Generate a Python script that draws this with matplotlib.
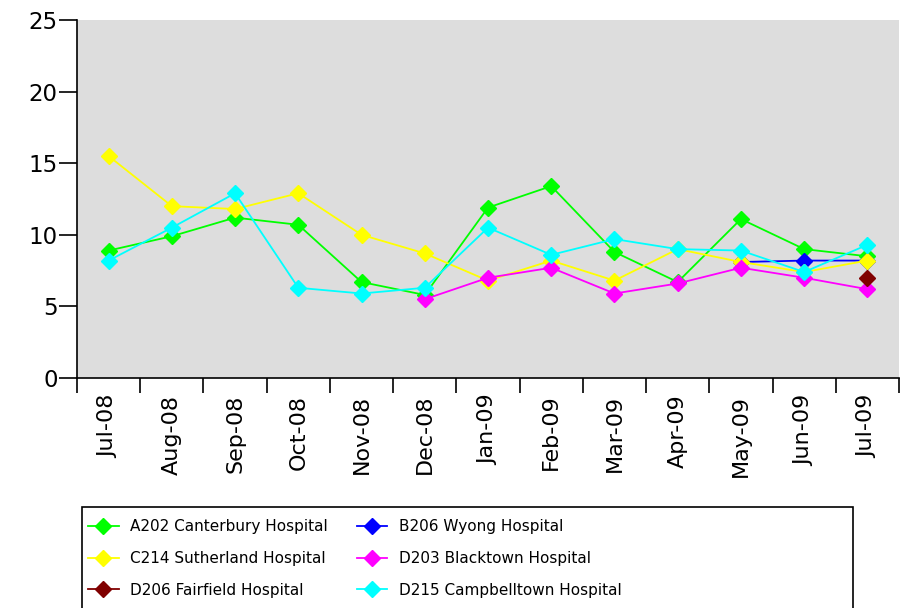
import numpy as np
import matplotlib
matplotlib.use("Agg")
import matplotlib.pyplot as plt
from matplotlib.patches import Rectangle

months = ["Jul-08", "Aug-08", "Sep-08", "Oct-08", "Nov-08", "Dec-08",
          "Jan-09", "Feb-09", "Mar-09", "Apr-09", "May-09", "Jun-09", "Jul-09"]

nan = np.nan
canterbury = [8.9, 9.9, 11.2, 10.7, 6.7, 5.8, 11.9, 13.4, 8.8, 6.7, 11.1, 9.0, 8.5]
wyong = [nan, nan, nan, nan, nan, nan, nan, nan, nan, nan, 8.1, 8.2, 8.2]
sutherland = [15.5, 12.0, 11.8, 12.9, 10.0, 8.7, 6.8, 8.2, 6.8, 9.0, 8.1, 7.4, 8.2]
blacktown = [nan, nan, nan, nan, nan, 5.5, 7.0, 7.7, 5.9, 6.6, 7.7, 7.0, 6.2]
fairfield = [nan, nan, nan, nan, nan, nan, nan, nan, nan, nan, nan, nan, 7.0]
campbelltown = [8.2, 10.5, 12.9, 6.3, 5.9, 6.3, 10.5, 8.6, 9.7, 9.0, 8.9, 7.4, 9.3]

# (label, values, colour) in drawing order, later ones on top
series = [
    ("A202 Canterbury Hospital", canterbury, "#00ff00"),
    ("B206 Wyong Hospital", wyong, "#0000ff"),
    ("C214 Sutherland Hospital", sutherland, "#ffff00"),
    ("D203 Blacktown Hospital", blacktown, "#ff00ff"),
    ("D206 Fairfield Hospital", fairfield, "#800000"),
    ("D215 Campbelltown Hospital", campbelltown, "#00ffff"),
]

W, H = 906, 608
fig = plt.figure(figsize=(W / 100, H / 100), dpi=100)
ax = fig.add_axes([77 / W, 1 - 378 / H, 822 / W, 358 / H])
ax.set_facecolor("#dddddd")

x = np.arange(len(months))
lines = {}
for label, vals, color in series:
    (ln,) = ax.plot(x, vals, color=color, lw=1.3, marker="D", ms=8,
                    mec=color, mfc=color, label=label)
    lines[label] = ln

ax.set_xlim(-0.5, len(months) - 0.5)
ax.set_ylim(0, 25)
ax.set_yticks([0, 5, 10, 15, 20, 25])
ax.tick_params(axis="y", length=13, width=1.2, labelsize=16.5, pad=1)

# category labels centred, tick marks on the boundaries
ax.set_xticks(x)
ax.set_xticklabels(months, rotation=90)
ax.set_xticks(np.arange(-0.5, len(months)), minor=True)
ax.tick_params(axis="x", which="major", length=0, labelsize=16, pad=12)
ax.tick_params(axis="x", which="minor", length=11, width=1.2)

for side in ("top", "right"):
    ax.spines[side].set_visible(False)
for side in ("left", "bottom"):
    ax.spines[side].set_linewidth(1.2)

# legend box runs off the bottom of the figure
fig.patches.append(Rectangle((82 / W, -0.02), (853 - 82) / W, 1 - 507 / H + 0.02,
                             transform=fig.transFigure, facecolor="white",
                             edgecolor="black", lw=1.2, zorder=0))

order = ["A202 Canterbury Hospital", "C214 Sutherland Hospital", "D206 Fairfield Hospital",
         "B206 Wyong Hospital", "D203 Blacktown Hospital", "D215 Campbelltown Hospital"]
fig.legend([lines[k] for k in order], order, ncol=2, frameon=False,
           loc="upper left", bbox_to_anchor=(88 / W, 1 - 519.5 / H),
           borderpad=0, borderaxespad=0, fontsize=11, handlelength=2.0,
           handletextpad=0.75, labelspacing=1.09, columnspacing=1.9)

fig.savefig("out.png", dpi=100)
